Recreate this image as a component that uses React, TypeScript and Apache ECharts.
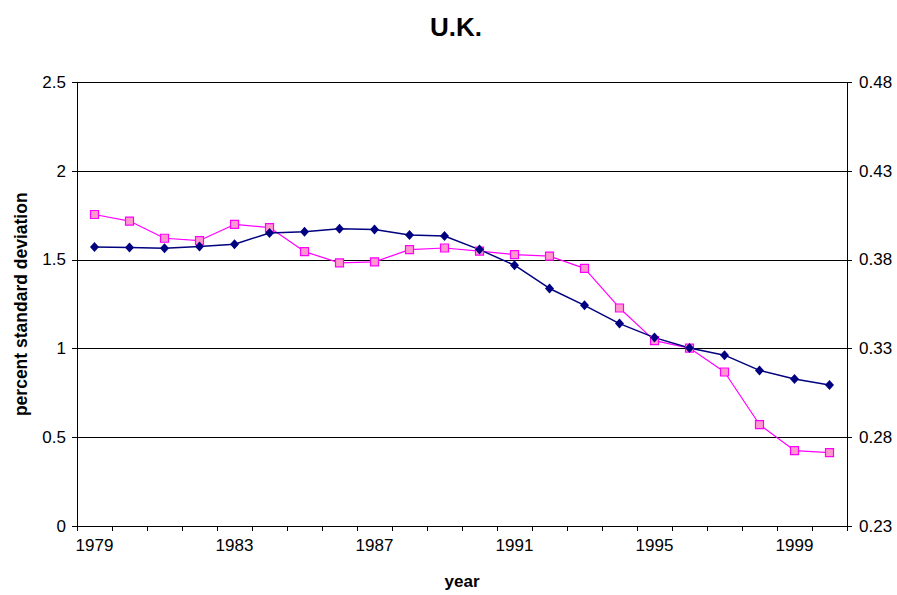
import React, { useEffect, useRef } from "react";
import * as echarts from "echarts";

const years = [
  "1979", "1980", "1981", "1982", "1983", "1984", "1985", "1986", "1987", "1988", "1989",
  "1990", "1991", "1992", "1993", "1994", "1995", "1996", "1997", "1998", "1999", "2000",
];

// dark blue diamonds, left axis
const blueValues = [
  1.573, 1.57, 1.566, 1.575, 1.588, 1.652, 1.659, 1.676, 1.672, 1.64, 1.635,
  1.558, 1.47, 1.339, 1.244, 1.141, 1.062, 1.003, 0.963, 0.877, 0.829, 0.795,
];

// pink squares, right axis
const pinkValues = [
  0.4056, 0.4019, 0.3922, 0.3909, 0.4, 0.3982, 0.3847, 0.3783, 0.3789, 0.3858, 0.3867,
  0.3849, 0.383, 0.3821, 0.3752, 0.3529, 0.3345, 0.3303, 0.3168, 0.2872, 0.2725, 0.2714,
];

const leftTicks = { min: 0, max: 2.5, interval: 0.5 };
const rightTicks = { min: 0.23, max: 0.48 };

const FONT = "'Liberation Sans', Arial, sans-serif";

export default function App() {
  const ref = useRef<HTMLDivElement>(null);
  useEffect(() => {
    if (!ref.current) return;
    const chart = echarts.init(ref.current, undefined, { renderer: "svg" });
    chart.setOption({
      animation: false,
      backgroundColor: "#ffffff",
      textStyle: { fontFamily: FONT },
      title: {
        text: "U.K.",
        left: 425,
        top: 9,
        textStyle: { fontFamily: FONT, fontSize: 26, fontWeight: "bold", color: "#000" },
      },
      grid: { left: 77, right: 50, top: 82.5, bottom: 67, containLabel: false },
      xAxis: {
        type: "category",
        data: years,
        boundaryGap: true,
        name: "year",
        nameLocation: "middle",
        nameGap: 47,
        nameTextStyle: { fontFamily: FONT, fontSize: 17, fontWeight: "bold", color: "#000" },
        axisLine: { show: true, lineStyle: { color: "#000", width: 1 } },
        axisTick: { show: true, interval: 0, length: 5, lineStyle: { color: "#000" } },
        axisLabel: { interval: 3, margin: 11, fontSize: 17, color: "#000", fontFamily: FONT },
        splitLine: { show: false },
      },
      yAxis: [
        {
          type: "value",
          min: leftTicks.min,
          max: leftTicks.max,
          interval: leftTicks.interval,
          position: "left",
          name: "percent standard deviation",
          nameLocation: "middle",
          nameGap: 47,
          nameTextStyle: {
            fontFamily: FONT,
            fontSize: 17.5,
            fontWeight: "bold",
            color: "#000",
          },
          axisLine: { show: true, lineStyle: { color: "#000", width: 1 } },
          axisTick: { show: true, length: 5, lineStyle: { color: "#000" } },
          axisLabel: { margin: 11, fontSize: 17, color: "#000", fontFamily: FONT },
          splitLine: { show: true, lineStyle: { color: "#000", width: 1 } },
        },
        {
          type: "value",
          min: rightTicks.min,
          max: rightTicks.max,
          alignTicks: true,
          position: "right",
          axisLine: { show: true, lineStyle: { color: "#000", width: 1 } },
          axisTick: { show: true, length: 5, lineStyle: { color: "#000" } },
          axisLabel: {
            margin: 12,
            fontSize: 17,
            color: "#000",
            fontFamily: FONT,
            formatter: (v: number) => v.toFixed(2),
          },
          splitLine: { show: false },
        },
      ],
      series: [
        {
          type: "line",
          yAxisIndex: 1,
          data: pinkValues,
          symbol: "rect",
          symbolSize: 8,
          lineStyle: { color: "#FF00FF", width: 1.2 },
          itemStyle: { color: "#FF99CC", borderColor: "#FF00FF", borderWidth: 1.2 },
        },
        {
          type: "line",
          yAxisIndex: 0,
          data: blueValues,
          symbol: "diamond",
          symbolSize: [9, 10],
          lineStyle: { color: "#000080", width: 1.5 },
          itemStyle: { color: "#000080", borderColor: "#000080", borderWidth: 0 },
        },
      ],
    });
    return () => chart.dispose();
  }, []);
  return <div ref={ref} style={{ width: 897, height: 595, position: "absolute", left: 0, top: 0 }} />;
}
